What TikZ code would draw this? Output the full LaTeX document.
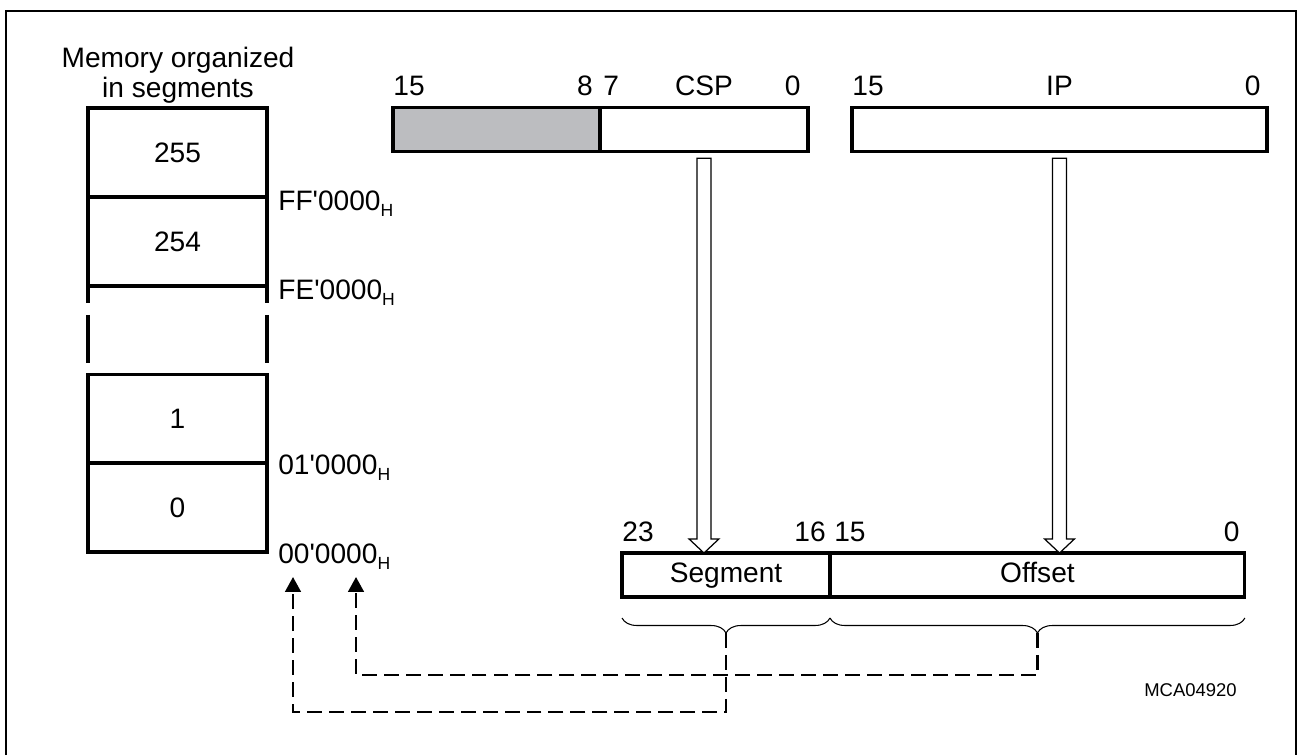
\documentclass[tikz,border=0pt]{standalone}
\usepackage{fontspec}
\setmainfont{Liberation Sans}[Ligatures=TeXOff]
\usetikzlibrary{positioning,calc,arrows.meta,decorations.pathreplacing}
\definecolor{regGray}{RGB}{188,189,192}
% mũi tên rỗng đi xuống
\newcommand{\hollowarrow}[2]{%
  \draw[hollowline] let \p1=(#1), \p2=(#2) in
    (\x1-4pt,\y1) -- (\x1+4pt,\y1) -- (\x1+4pt,\y2+8pt)
    -- (\x1+8.5pt,\y2+8pt) -- (\x2,\y2) -- (\x1-8.5pt,\y2+8pt)
    -- (\x1-4pt,\y2+8pt) -- cycle;}
\newcommand{\hexaddr}[1]{#1\raisebox{-3.8pt}{\fontsize{10}{10}\selectfont H}}
\begin{document}
\begin{tikzpicture}[x=0.02cm, y=-0.02cm,
  font=\fontsize{16}{17}\selectfont,
  cell/.style={draw, line width=1.8pt, minimum width=3.58cm, minimum height=1.78cm, inner sep=0pt, outer sep=0pt},
  reg/.style={draw, line width=1.8pt, minimum height=0.87cm, inner sep=0pt, outer sep=0pt, text height=11.5pt, text depth=3.5pt},
  bitnum/.style={inner sep=0pt},
  addrlbl/.style={anchor=base west, inner sep=0pt},
  wall/.style={line width=1.8pt},
  hollowline/.style={line width=0.7pt, fill=white, line join=miter},
  dashlink/.style={line width=1.2pt, dash pattern=on 8.5pt off 4pt, -{Triangle[width=9pt, length=8.5pt]}},
  bracedec/.style={line width=0.6pt, decorate, decoration={brace, mirror, amplitude=0.3cm}}]
  \useasboundingbox (0,0) rectangle (1297,755);
  % Khung ngoài
  \draw[line width=1.5pt] (6,755) -- (6,11) -- (1296,11) -- (1296,755);

  % Bộ nhớ chia đoạn
  \node[align=center, anchor=north, inner sep=0pt] (memtitle) at (178,47) {Memory organized\\in segments};
  \node[cell] (s255) at (177.5,152.5) {255};
  \node[cell] (s254) at (177.5,241.5) {254};
  \node[cell] (s1) at (177.5,419) {1};
  \node[cell] (s0) at (177.5,507.5) {0};
  \draw[wall] (s254.south west) -- ++(0,17) (s254.south east) -- ++(0,17);
  \draw[wall] ([yshift=-0.58cm]s254.south west) -- ([yshift=-1.54cm]s254.south west);
  \draw[wall] ([yshift=-0.58cm]s254.south east) -- ([yshift=-1.54cm]s254.south east);

  % Địa chỉ đầu đoạn
  \node[addrlbl] (aFF) at (278,210) {\hexaddr{FF'0000}};
  \node[addrlbl] (aFE) at (278,299) {\hexaddr{FE'0000}};
  \node[addrlbl] (a01) at (278,474) {\hexaddr{01'0000}};
  \node[addrlbl] (a00) at (278,563) {\hexaddr{00'0000}};

  % Thanh ghi CSP và IP
  \node[reg, fill=regGray, minimum width=4.14cm] (csphi) at (496.5,129.5) {};
  \node[reg, minimum width=4.16cm, right=0pt of csphi] (csplo) {};
  \node[reg, minimum width=8.3cm] (ip) at (1059.5,129.5) {};
  \node[bitnum, anchor=base west] at ([yshift=0.24cm]csphi.north west) {15};
  \node[bitnum, anchor=base east] at ([xshift=-0.14cm, yshift=0.24cm]csphi.north east) {8};
  \node[bitnum, anchor=base west] at ([xshift=0.06cm, yshift=0.24cm]csplo.north west) {7};
  \node[bitnum, anchor=base] at ([yshift=0.24cm]csplo.north) {CSP};
  \node[bitnum, anchor=base east] at ([xshift=-0.14cm, yshift=0.24cm]csplo.north east) {0};
  \node[bitnum, anchor=base west] at ([yshift=0.24cm]ip.north west) {15};
  \node[bitnum, anchor=base] at ([yshift=0.24cm]ip.north) {IP};
  \node[bitnum, anchor=base east] at ([xshift=-0.12cm, yshift=0.24cm]ip.north east) {0};

  % Địa chỉ 24 bit
  \node[reg, minimum width=4.16cm, minimum height=0.88cm] (segpart) at (726,575) {Segment};
  \node[reg, minimum width=8.3cm, minimum height=0.88cm, right=0pt of segpart] (offpart) {Offset};
  \node[bitnum, anchor=base west] at ([yshift=0.24cm]segpart.north west) {23};
  \node[bitnum, anchor=base east] at ([xshift=-0.08cm, yshift=0.24cm]segpart.north east) {16};
  \node[bitnum, anchor=base west] at ([xshift=0.08cm, yshift=0.24cm]offpart.north west) {15};
  \node[bitnum, anchor=base east] at ([xshift=-0.1cm, yshift=0.24cm]offpart.north east) {0};

  % Mũi tên rỗng
  \coordinate (cspfrom) at ([yshift=-0.14cm]csplo.south);
  \coordinate (cspto) at (csplo.south |- segpart.north);
  \coordinate (ipfrom) at ([yshift=-0.14cm]ip.south);
  \coordinate (ipto) at (ip.south |- offpart.north);
  \hollowarrow{cspfrom}{cspto}
  \hollowarrow{ipfrom}{ipto}

  % Ngoặc nhọn
  \draw[bracedec] ([yshift=-0.42cm]segpart.south west) -- ([yshift=-0.42cm]segpart.south east);
  \draw[bracedec] ([yshift=-0.42cm]offpart.south west) -- ([yshift=-0.42cm]offpart.south east);
  \coordinate (segtip) at ([yshift=-0.72cm]segpart.south);
  \coordinate (offtip) at ([yshift=-0.72cm]offpart.south);

  % Đường nét đứt về địa chỉ
  \coordinate (segdst) at (293,577);
  \coordinate (offdst) at (356,577);
  \draw[dashlink] (segtip) -- ++(0,79) -| (segdst);
  \draw[dashlink] (offtip) -- ++(0,42) -| (offdst);

  \node[anchor=base east, inner sep=0pt, font=\fontsize{10.5}{12}\selectfont] (figid) at (1237,696) {MCA04920};
\end{tikzpicture}
\end{document}
